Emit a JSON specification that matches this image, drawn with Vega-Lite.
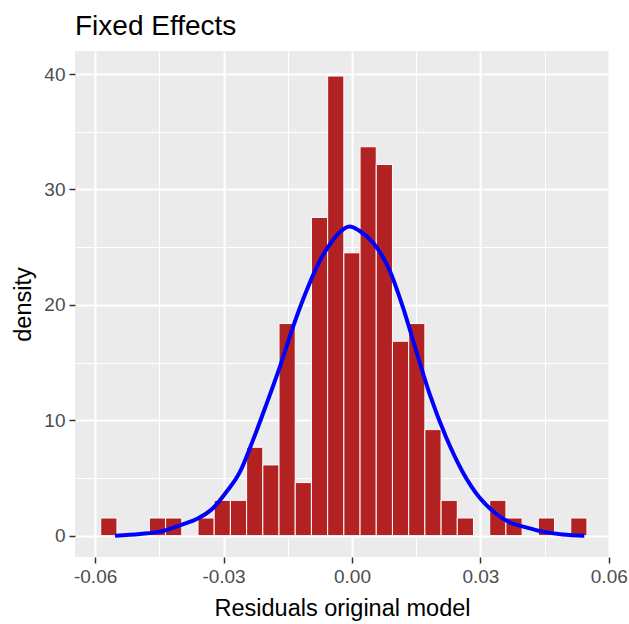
{
  "$schema": "https://vega.github.io/schema/vega-lite/v6.json",
  "width": 534,
  "height": 506,
  "autosize": {"type": "none"},
  "padding": {"left": 75, "top": 51, "right": 20, "bottom": 67},
  "background": "white",
  "title": {
    "text": "Fixed Effects",
    "anchor": "start",
    "frame": "group",
    "font": "Liberation Sans",
    "fontSize": 28,
    "fontWeight": "normal",
    "color": "black",
    "baseline": "alphabetic",
    "offset": 18,
    "dy": 30
  },
  "config": {
    "view": {"fill": "#EBEBEB", "stroke": null},
    "axis": {
      "domain": false,
      "gridColor": "white",
      "tickColor": "#333333",
      "tickSize": 6,
      "tickWidth": 1.5,
      "labelFont": "Liberation Sans",
      "labelFontSize": 19,
      "labelColor": "#4D4D4D",
      "titleFont": "Liberation Sans",
      "titleFontSize": 23.5,
      "titleFontWeight": "normal",
      "titleColor": "black"
    }
  },
  "datasets": {
    "bins": [
      {"bin_start": -0.058683, "bin_end": -0.054897, "density": 1.53},
      {"bin_start": -0.047325, "bin_end": -0.043539, "density": 1.53},
      {"bin_start": -0.043539, "bin_end": -0.039753, "density": 1.53},
      {"bin_start": -0.035967, "bin_end": -0.032181, "density": 1.53},
      {"bin_start": -0.032181, "bin_end": -0.028395, "density": 3.06},
      {"bin_start": -0.028395, "bin_end": -0.024609, "density": 3.06},
      {"bin_start": -0.024609, "bin_end": -0.020823, "density": 7.66},
      {"bin_start": -0.020823, "bin_end": -0.017037, "density": 6.13},
      {"bin_start": -0.017037, "bin_end": -0.013251, "density": 18.38},
      {"bin_start": -0.013251, "bin_end": -0.009465, "density": 4.6},
      {"bin_start": -0.009465, "bin_end": -0.005679, "density": 27.58},
      {"bin_start": -0.005679, "bin_end": -0.001893, "density": 39.83},
      {"bin_start": -0.001893, "bin_end": 0.001893, "density": 24.51},
      {"bin_start": 0.001893, "bin_end": 0.005679, "density": 33.7},
      {"bin_start": 0.005679, "bin_end": 0.009465, "density": 32.17},
      {"bin_start": 0.009465, "bin_end": 0.013251, "density": 16.85},
      {"bin_start": 0.013251, "bin_end": 0.017037, "density": 18.38},
      {"bin_start": 0.017037, "bin_end": 0.020823, "density": 9.19},
      {"bin_start": 0.020823, "bin_end": 0.024609, "density": 3.06},
      {"bin_start": 0.024609, "bin_end": 0.028395, "density": 1.53},
      {"bin_start": 0.032181, "bin_end": 0.035967, "density": 3.06},
      {"bin_start": 0.035967, "bin_end": 0.039753, "density": 1.53},
      {"bin_start": 0.043539, "bin_end": 0.047325, "density": 1.53},
      {"bin_start": 0.051111, "bin_end": 0.054897, "density": 1.53}
    ],
    "curve": [
      {"x": -0.05535, "d": 0.0},
      {"x": -0.04952, "d": 0.15},
      {"x": -0.04486, "d": 0.35},
      {"x": -0.04019, "d": 0.9},
      {"x": -0.03592, "d": 1.5},
      {"x": -0.03242, "d": 2.4},
      {"x": -0.0293, "d": 3.8},
      {"x": -0.0262, "d": 5.5},
      {"x": -0.02309, "d": 8.3},
      {"x": -0.01997, "d": 11.4},
      {"x": -0.01686, "d": 14.6},
      {"x": -0.01376, "d": 18.1},
      {"x": -0.01064, "d": 21.2},
      {"x": -0.00753, "d": 23.8},
      {"x": -0.0056, "d": 25.0},
      {"x": -0.00287, "d": 26.3},
      {"x": -0.00054, "d": 26.8},
      {"x": 0.0018, "d": 26.4},
      {"x": 0.0049, "d": 25.4},
      {"x": 0.00879, "d": 23.0},
      {"x": 0.0119, "d": 19.8},
      {"x": 0.01502, "d": 16.0},
      {"x": 0.01812, "d": 12.3},
      {"x": 0.02202, "d": 8.5},
      {"x": 0.02589, "d": 5.5},
      {"x": 0.02979, "d": 3.3},
      {"x": 0.03368, "d": 1.9},
      {"x": 0.03679, "d": 1.16},
      {"x": 0.04068, "d": 0.72},
      {"x": 0.04455, "d": 0.35},
      {"x": 0.04922, "d": 0.1},
      {"x": 0.05428, "d": 0.0}
    ]
  },
  "layer": [
    {
      "data": {"name": "bins"},
      "mark": {"type": "rect", "fill": "#B22222", "stroke": "white", "strokeWidth": 1},
      "encoding": {
        "x": {
          "field": "bin_start",
          "type": "quantitative",
          "scale": {"domain": [-0.0647, 0.06005], "nice": false, "zero": false},
          "axis": {
            "title": "Residuals original model",
            "values": [-0.06, -0.045, -0.03, -0.015, 0, 0.015, 0.03, 0.045, 0.06],
            "labelExpr": "(abs(abs(datum.value) - 0.015) < 0.001 || abs(abs(datum.value) - 0.045) < 0.001) ? '' : replace(format(datum.value, '.2f'), '\u2212', '-')",
            "gridWidth": {"condition": {"test": "abs(abs(datum.value) - 0.015) < 0.001 || abs(abs(datum.value) - 0.045) < 0.001", "value": 1}, "value": 2},
            "tickOpacity": {"condition": {"test": "abs(abs(datum.value) - 0.015) < 0.001 || abs(abs(datum.value) - 0.045) < 0.001", "value": 0}, "value": 1},
            "labelPadding": 4,
            "titlePadding": 10,
            "labelFlush": false,
            "labelOverlap": false
          }
        },
        "x2": {"field": "bin_end"},
        "y": {
          "field": "density",
          "type": "quantitative",
          "scale": {"domain": [-1.85, 42.0], "nice": false, "zero": false},
          "axis": {
            "title": "density",
            "values": [0, 5, 10, 15, 20, 25, 30, 35, 40],
            "labelExpr": "datum.value % 10 != 0 ? '' : datum.label",
            "gridWidth": {"condition": {"test": "datum.value % 10 != 0", "value": 1}, "value": 2},
            "tickOpacity": {"condition": {"test": "datum.value % 10 != 0", "value": 0}, "value": 1},
            "labelPadding": 4,
            "titlePadding": 8,
            "labelFlush": false,
            "labelOverlap": false
          }
        },
        "y2": {"datum": 0}
      }
    },
    {
      "data": {"name": "curve"},
      "mark": {"type": "line", "color": "#0000FF", "strokeWidth": 4, "interpolate": "monotone"},
      "encoding": {
        "x": {"field": "x", "type": "quantitative"},
        "y": {"field": "d", "type": "quantitative"}
      }
    }
  ]
}
